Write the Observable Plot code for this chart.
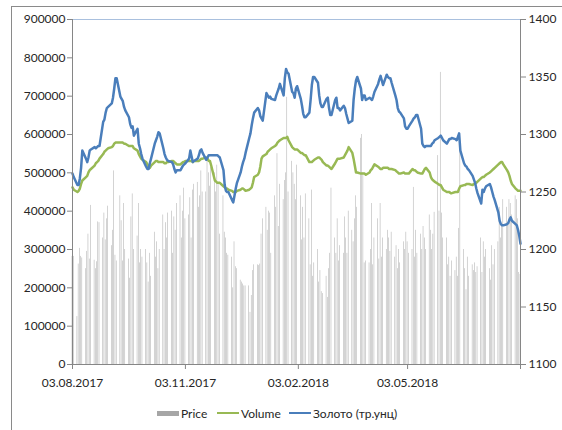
<!DOCTYPE html>
<html>
<head>
<meta charset="utf-8">
<script src="https://cdn.jsdelivr.net/npm/d3@7"></script>
<script src="https://cdn.jsdelivr.net/npm/@observablehq/plot@0.6"></script>
<style>
  body { margin: 0; background: #fff; font-family: Lato, "Open Sans", sans-serif; }
  #wrap { position: relative; width: 562px; height: 430px; overflow: hidden; }
  #border { position: absolute; left: 11px; top: 6px; width: 640px; height: 520px;
            border-left: 1px solid #8a8a8a; border-top: 1px solid #8a8a8a; }
  #chart { position: absolute; left: 0; top: 0; }
  .item { position: absolute; top: 405px; height: 16px; display: flex; align-items: center;
          font-size: 12px; color: #262626; white-space: nowrap; }
  .sw { display: inline-block; width: 22px; margin-right: 2px; }
</style>
</head>
<body>
<div id="wrap">
  <div id="border"></div>
  <div id="chart"></div>
  <div id="legend"></div>
</div>
<script>
// Trading days (Mon–Fri) starting from this date
const startDate = "2017-08-03";
const endDate = "2018-08-03";

// Daily bar series (left axis)
const price = [
  282000,282000,
  125000,262000,303000,282000,278000,
  250000,295000,340000,275000,415000,
  272000,250000,268000,372000,370000,
  330000,395000,325000,380000,413000,
  310000,350000,505000,285000,270000,
  440000,375000,270000,420000,300000,
  275000,225000,385000,445000,300000,
  335000,420000,265000,300000,280000,
  300000,265000,215000,290000,230000,
  345000,280000,320000,250000,300000,
  390000,300000,370000,330000,395000,
  400000,290000,385000,350000,420000,
  440000,330000,400000,460000,380000,
  390000,435000,330000,455000,470000,
  475000,410000,440000,505000,450000,
  450000,530000,500000,465000,515000,
  500000,450000,520000,470000,340000,
  440000,345000,330000,290000,285000,
  280000,200000,320000,255000,250000,
  220000,215000,210000,205000,205000,
  205000,136000,180000,245000,260000,
  260000,258000,262000,340000,380000,
  410000,350000,400000,395000,290000,
  440000,410000,550000,360000,470000,
  430000,480000,500000,697000,450000,
  530000,500000,470000,430000,520000,
  440000,325000,410000,330000,445000,
  380000,260000,455000,230000,265000,
  300000,215000,245000,190000,185000,
  230000,175000,250000,290000,460000,
  330000,290000,380000,270000,310000,
  290000,385000,330000,290000,400000,
  350000,320000,380000,440000,410000,
  590000,600000,500000,265000,270000,
  265000,300000,420000,260000,330000,
  380000,275000,420000,280000,330000,
  300000,350000,330000,295000,345000,
  280000,310000,250000,300000,265000,
  320000,300000,345000,320000,290000,
  300000,462000,280000,350000,290000,
  340000,300000,360000,330000,300000,
  390000,350000,300000,340000,397000,
  545000,400000,762000,395000,330000,
  330000,260000,280000,230000,270000,
  245000,280000,230000,355000,558000,
  300000,250000,195000,280000,230000,
  260000,245000,265000,240000,255000,
  330000,240000,320000,280000,300000,
  250000,220000,310000,260000,300000,
  320000,410000,330000,360000,430000,
  410000,370000,430000,420000,390000,
  440000,430000,380000,240000,235000
];

// Daily line series (right axis)
const volume = [
  1254,1252,
  1250,1251,1253,1257,1260,
  1263,1264,1267,1269,1270,
  1273,1275,1276,1277,1279,
  1283,1285,1286,1287,1288,
  1289,1290,1292,1293,1293,
  1293,1293,1293,1292,1292,
  1290,1290,1290,1290,1288,
  1286,1283,1281,1279,1278,
  1276,1274,1272,1271,1273,
  1276,1277,1277,1276,1276,
  1276,1275,1275,1276,1276,
  1277,1277,1276,1275,1274,
  1274,1275,1276,1276,1277,
  1277,1277,1277,1276,1277,
  1277,1277,1278,1279,1279,
  1280,1279,1277,1277,1273,
  1260,1259,1258,1258,1258,
  1255,1254,1253,1253,1252,
  1251,1250,1250,1250,1251,
  1252,1253,1253,1252,1251,
  1252,1253,1254,1258,1263,
  1265,1267,1272,1279,1281,
  1283,1285,1286,1287,1288,
  1290,1291,1293,1294,1295,
  1297,1297,1297,1298,1295,
  1289,1288,1287,1287,1287,
  1284,1284,1283,1282,1282,
  1276,1276,1276,1277,1278,
  1280,1280,1279,1278,1276,
  1273,1273,1272,1271,1270,
  1275,1277,1279,1279,1279,
  1280,1282,1284,1286,1289,
  1284,1279,1273,1267,1267,
  1266,1266,1266,1266,1265,
  1267,1269,1270,1272,1274,
  1272,1271,1270,1270,1271,
  1271,1271,1270,1270,1270,
  1269,1268,1267,1266,1266,
  1267,1266,1266,1266,1266,
  1270,1269,1269,1268,1267,
  1266,1266,1268,1270,1271,
  1267,1263,1261,1260,1259,
  1257,1256,1256,1254,1252,
  1250,1250,1250,1249,1249,
  1250,1250,1250,1253,1255,
  1256,1256,1257,1257,1257,
  1256,1257,1257,1258,1259,
  1262,1263,1263,1264,1265,
  1267,1268,1269,1270,1271,
  1274,1275,1276,1276,1274,
  1269,1267,1264,1260,1257,
  1253,1252,1251,1251,1251
];

const gold = [
  1266,1263,
  1256,1256,1262,1271,1286,
  1279,1276,1280,1286,1287,
  1289,1288,1289,1290,1290,
  1311,1313,1319,1323,1324,
  1327,1332,1340,1349,1349,
  1333,1331,1329,1324,1321,
  1315,1309,1306,1307,1299,
  1305,1292,1288,1283,1279,
  1272,1270,1270,1275,1279,
  1292,1295,1298,1302,1301,
  1288,1283,1280,1278,1277,
  1276,1274,1270,1267,1269,
  1269,1271,1273,1274,1275,
  1279,1286,1281,1276,1277,
  1279,1282,1286,1287,1284,
  1278,1280,1282,1282,1282,
  1282,1282,1282,1281,1280,
  1269,1256,1251,1250,1250,
  1243,1241,1247,1253,1258,
  1267,1272,1276,1279,1284,
  1297,1301,1308,1314,1319,
  1323,1321,1316,1314,1312,
  1336,1334,1332,1333,1331,
  1330,1334,1337,1340,1344,
  1334,1349,1357,1354,1353,
  1337,1336,1332,1340,1342,
  1331,1325,1318,1315,1315,
  1319,1330,1343,1350,1350,
  1345,1334,1327,1324,1324,
  1331,1332,1323,1317,1317,
  1330,1332,1323,1323,1321,
  1325,1323,1318,1314,1310,
  1312,1330,1340,1347,1350,
  1340,1330,1334,1334,1330,
  1332,1331,1330,1333,1337,
  1344,1348,1351,1347,1343,
  1352,1350,1349,1349,1345,
  1334,1330,1323,1320,1319,
  1314,1307,1305,1305,1307,
  1312,1314,1315,1317,1317,
  1305,1292,1290,1289,1290,
  1290,1290,1292,1293,1295,
  1297,1298,1299,1297,1295,
  1292,1294,1296,1296,1297,
  1296,1295,1298,1301,1286,
  1275,1273,1272,1270,1269,
  1264,1261,1258,1253,1249,
  1240,1252,1250,1253,1255,
  1257,1254,1250,1246,1243,
  1232,1225,1222,1221,1221,
  1222,1223,1226,1228,1225,
  1222,1221,1217,1212,1205
];

const leftTicks = [0, 100000, 200000, 300000, 400000, 500000, 600000, 700000, 800000, 900000];
const rightTicks = [1100, 1150, 1200, 1250, 1300, 1350, 1400];
const xTickLabels = ["03.08.2017", "03.11.2017", "03.02.2018", "03.05.2018"];
const seriesNames = ["Price", "Volume", "Золото (тр.унц)"];
const seriesColors = ["#a6a6a6", "#98b954", "#4a7ebb"];

const axisGrey = "#868686";
const textColor = "#262626";
const DAY = 864e5;

// Build weekday dates
const dates = [];
for (let t = Date.parse(startDate); dates.length < price.length; t += DAY) {
  const wd = new Date(t).getUTCDay();
  if (wd !== 0 && wd !== 6) dates.push(new Date(t));
}
const rows = dates.map((date, i) => ({date, price: price[i], volume: volume[i], gold: gold[i]}));

// Secondary axis: map right-hand values onto the left scale
const lMax = leftTicks[leftTicks.length - 1];
const rMin = rightTicks[0], rMax = rightTicks[rightTicks.length - 1];
const toLeft = v => (v - rMin) / (rMax - rMin) * lMax;
const fromLeft = v => v / lMax * (rMax - rMin) + rMin;

const parseLabel = d3.utcParse("%d.%m.%Y");
const labelDates = xTickLabels.map(parseLabel);
const xDomain = [new Date(Date.parse(startDate)), new Date(Date.parse(endDate))];

const chart = Plot.plot({
  width: 562,
  height: 400,
  marginLeft: 72,
  marginRight: 42,
  marginTop: 19,
  marginBottom: 36,
  style: {fontFamily: "Lato, 'Open Sans', sans-serif", fontSize: "12px", background: "transparent", overflow: "visible"},
  x: {type: "utc", domain: xDomain},
  y: {domain: [0, lMax]},
  marks: [
    Plot.frame({stroke: "#a9c0de"}),
    Plot.rectY(rows, {
      x1: d => new Date(+d.date - 0.2 * DAY),
      x2: d => new Date(+d.date + 0.2 * DAY),
      y: "price",
      fill: seriesColors[0],
      shapeRendering: "geometricPrecision"
    }),
    Plot.lineY(rows, {x: "date", y: d => toLeft(d.volume), stroke: seriesColors[1], strokeWidth: 2.5, strokeLinejoin: "round"}),
    Plot.lineY(rows, {x: "date", y: d => toLeft(d.gold), stroke: seriesColors[2], strokeWidth: 2.5, strokeLinejoin: "round"}),
    Plot.ruleY([0], {stroke: axisGrey}),
    Plot.ruleX(xDomain, {stroke: axisGrey}),
    Plot.axisY({
      anchor: "left", ticks: leftTicks, tickFormat: d3.format("d"),
      tickSize: 5, tickPadding: 2, stroke: axisGrey, fill: textColor, label: null
    }),
    Plot.axisY({
      anchor: "right", ticks: rightTicks.map(toLeft), tickFormat: d => String(Math.round(fromLeft(d))),
      tickSize: 5, tickPadding: 3, stroke: axisGrey, fill: textColor, label: null
    }),
    Plot.axisX({
      ticks: [...labelDates, xDomain[1]],
      tickFormat: d => {
        const k = labelDates.findIndex(t => +t === +d);
        return k >= 0 ? xTickLabels[k] : "";
      },
      tickSize: 5, tickPadding: 9, stroke: axisGrey, fill: textColor, label: null
    })
  ]
});
document.getElementById("chart").appendChild(chart);

// Legend below the chart
const legend = document.getElementById("legend");
const legendLeft = [157, 217, 289];
seriesNames.forEach((name, i) => {
  const item = document.createElement("div");
  item.className = "item";
  item.style.left = legendLeft[i] + "px";
  const sw = document.createElement("span");
  sw.className = "sw";
  sw.style.background = seriesColors[i];
  sw.style.height = i === 0 ? "5px" : "2px";
  item.appendChild(sw);
  item.appendChild(document.createTextNode(name));
  legend.appendChild(item);
});
</script>
</body>
</html>
